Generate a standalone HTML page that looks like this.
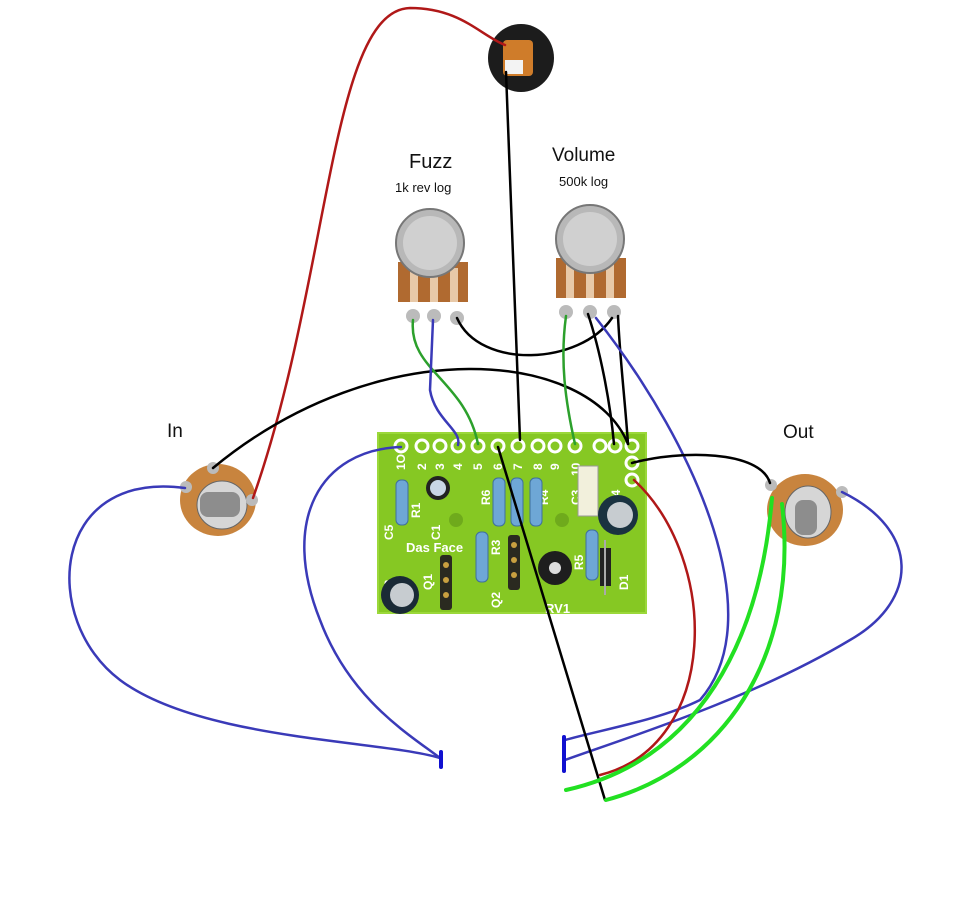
<!DOCTYPE html>
<html><head><style>
html,body{margin:0;padding:0;background:#fff;}
svg{display:block;font-family:"Liberation Sans",sans-serif;}
</style></head><body>
<svg width="977" height="906" viewBox="0 0 977 906" xmlns="http://www.w3.org/2000/svg">
<rect width="977" height="906" fill="#fff"/>
<text x="167" y="437" font-size="19" fill="#111">In</text>
<text x="783" y="438" font-size="19" fill="#111">Out</text>
<text x="409" y="168" font-size="20" fill="#111">Fuzz</text>
<text x="395" y="192" font-size="13" fill="#111">1k rev log</text>
<text x="552" y="161" font-size="19" fill="#111">Volume</text>
<text x="559" y="186" font-size="13" fill="#111">500k log</text>

<rect x="378" y="433" width="268" height="180" fill="#86c823"/>
<rect x="378" y="433" width="268" height="180" fill="none" stroke="#9bd83a" stroke-width="2"/>
<g fill="#86c823" stroke="#fff" stroke-width="3">
<circle cx="401" cy="446" r="6"/><circle cx="422" cy="446" r="6"/><circle cx="440" cy="446" r="6"/>
<circle cx="458" cy="446" r="6"/><circle cx="478" cy="446" r="6"/><circle cx="498" cy="446" r="6"/>
<circle cx="518" cy="446" r="6"/><circle cx="538" cy="446" r="6"/><circle cx="555" cy="446" r="6"/>
<circle cx="575" cy="446" r="6"/><circle cx="600" cy="446" r="6"/><circle cx="615" cy="446" r="6"/>
<circle cx="632" cy="446" r="6"/><circle cx="632" cy="463" r="6"/><circle cx="632" cy="480" r="6"/>
</g>
<g fill="#fff" font-size="12" font-weight="bold">
<text transform="translate(405,470) rotate(-90)">1O</text>
<text transform="translate(426,470) rotate(-90)">2</text>
<text transform="translate(444,470) rotate(-90)">3</text>
<text transform="translate(462,470) rotate(-90)">4</text>
<text transform="translate(482,470) rotate(-90)">5</text>
<text transform="translate(502,470) rotate(-90)">6</text>
<text transform="translate(522,470) rotate(-90)">7</text>
<text transform="translate(542,470) rotate(-90)">8</text>
<text transform="translate(559,470) rotate(-90)">9</text>
<text transform="translate(580,476) rotate(-90)">10</text>
<text transform="translate(420,518) rotate(-90)">R1</text>
<text transform="translate(440,540) rotate(-90)">C1</text>
<text transform="translate(393,540) rotate(-90)">C5</text>
<text transform="translate(393,595) rotate(-90)">C2</text>
<text transform="translate(490,505) rotate(-90)">R6</text>
<text transform="translate(548,505) rotate(-90)">R4</text>
<text transform="translate(580,505) rotate(-90)">C3</text>
<text transform="translate(620,505) rotate(-90)">C4</text>
<text transform="translate(500,555) rotate(-90)">R3</text>
<text transform="translate(432,590) rotate(-90)">Q1</text>
<text transform="translate(500,608) rotate(-90)">Q2</text>
<text transform="translate(583,570) rotate(-90)">R5</text>
<text transform="translate(628,590) rotate(-90)">D1</text>
<text x="406" y="552" font-size="13">Das Face</text>
<text x="545" y="613" font-size="13">RV1</text>
</g>
<g fill="#6ea7d6" stroke="#3e6f9c" stroke-width="1">
<rect x="396" y="480" width="12" height="45" rx="5"/>
<rect x="493" y="478" width="12" height="48" rx="5"/>
<rect x="511" y="478" width="12" height="48" rx="5"/>
<rect x="530" y="478" width="12" height="48" rx="5"/>
<rect x="476" y="532" width="12" height="50" rx="5"/>
<rect x="586" y="530" width="12" height="50" rx="5"/>
</g>
<rect x="578" y="466" width="20" height="50" fill="#f2f0dc" stroke="#999"/>
<circle cx="438" cy="488" r="12" fill="#222"/><circle cx="438" cy="488" r="8" fill="#c9d6e6"/>
<circle cx="618" cy="515" r="20" fill="#1a3240"/><circle cx="620" cy="515" r="13" fill="#c7ccd0"/>
<circle cx="400" cy="595" r="19" fill="#1a2a36"/><circle cx="402" cy="595" r="12" fill="#c7ccd0"/>
<circle cx="456" cy="520" r="7" fill="#6faa1c"/><circle cx="562" cy="520" r="7" fill="#6faa1c"/>
<rect x="440" y="555" width="12" height="55" rx="3" fill="#2a2a20"/>
<g fill="#c8a040"><circle cx="446" cy="565" r="3"/><circle cx="446" cy="580" r="3"/><circle cx="446" cy="595" r="3"/></g>
<rect x="508" y="535" width="12" height="55" rx="3" fill="#2a2a20"/>
<g fill="#c8a040"><circle cx="514" cy="545" r="3"/><circle cx="514" cy="560" r="3"/><circle cx="514" cy="575" r="3"/></g>
<circle cx="555" cy="568" r="17" fill="#1e1e1e"/><circle cx="555" cy="568" r="6" fill="#ddd"/>
<rect x="600" y="548" width="11" height="38" fill="#222"/><rect x="604" y="540" width="2" height="55" fill="#aaa"/>

<g>
<rect x="398" y="262" width="70" height="40" fill="#b06a30"/>
<rect x="410" y="268" width="8" height="34" fill="#e8c9a8"/><rect x="430" y="268" width="8" height="34" fill="#e8c9a8"/><rect x="450" y="268" width="8" height="34" fill="#e8c9a8"/>
<circle cx="430" cy="243" r="34" fill="#b8b8b8" stroke="#777" stroke-width="2"/>
<circle cx="430" cy="243" r="27" fill="#d0d0d0"/>
<circle cx="413" cy="316" r="7" fill="#bbb"/><circle cx="434" cy="316" r="7" fill="#bbb"/><circle cx="457" cy="318" r="7" fill="#bbb"/>
</g>
<g>
<rect x="556" y="258" width="70" height="40" fill="#b06a30"/>
<rect x="566" y="264" width="8" height="34" fill="#e8c9a8"/><rect x="586" y="264" width="8" height="34" fill="#e8c9a8"/><rect x="606" y="264" width="8" height="34" fill="#e8c9a8"/>
<circle cx="590" cy="239" r="34" fill="#b8b8b8" stroke="#777" stroke-width="2"/>
<circle cx="590" cy="239" r="27" fill="#d0d0d0"/>
<circle cx="566" cy="312" r="7" fill="#bbb"/><circle cx="590" cy="312" r="7" fill="#bbb"/><circle cx="614" cy="312" r="7" fill="#bbb"/>
</g>
<ellipse cx="521" cy="58" rx="33" ry="34" fill="#1c1c1c"/>
<rect x="503" y="40" width="30" height="36" rx="4" fill="#cf7c2a"/>
<rect x="505" y="60" width="18" height="14" fill="#f3f3f3"/>
<g>
<ellipse cx="218" cy="500" rx="38" ry="36" fill="#c8843e"/>
<ellipse cx="222" cy="505" rx="25" ry="24" fill="#d6d6d6" stroke="#666"/>
<rect x="200" y="492" width="40" height="25" rx="8" fill="#8d8d8d"/>
<circle cx="213" cy="468" r="6" fill="#bbb"/><circle cx="186" cy="487" r="6" fill="#bbb"/><circle cx="252" cy="500" r="6" fill="#bbb"/>
</g>
<g>
<ellipse cx="805" cy="510" rx="38" ry="36" fill="#c8843e"/>
<ellipse cx="808" cy="512" rx="23" ry="26" fill="#d6d6d6" stroke="#666"/>
<rect x="795" y="500" width="22" height="35" rx="8" fill="#8d8d8d"/>
<circle cx="771" cy="485" r="6" fill="#bbb"/><circle cx="842" cy="492" r="6" fill="#bbb"/>
</g>

<g fill="none" stroke-linecap="round">
<path d="M253,498 C330,280 330,10 410,8 C460,8 480,35 505,45" stroke="#b01818" stroke-width="2.5"/>
<path d="M506,72 L520,440" stroke="#000" stroke-width="2.5"/>
<path d="M213,468 C380,330 590,350 628,444" stroke="#000" stroke-width="2.5"/>
<path d="M185,488 C50,470 40,620 120,680 C200,740 380,740 440,758" stroke="#3a3ab8" stroke-width="2.5"/>
<path d="M401,447 C320,450 280,520 320,620 C350,700 410,735 440,758" stroke="#3a3ab8" stroke-width="2.5"/>
<path d="M441,752 L441,767" stroke="#1010d0" stroke-width="4"/>
<path d="M413,320 C408,370 465,380 478,444" stroke="#2ca02c" stroke-width="2.5"/>
<path d="M433,320 L430,390 C435,420 462,430 458,445" stroke="#3a3ab8" stroke-width="2.5"/>
<path d="M457,318 C480,370 580,365 612,318" stroke="#000" stroke-width="2.5"/>
<path d="M588,314 C600,350 610,400 614,444" stroke="#000" stroke-width="2.5"/>
<path d="M618,316 C620,360 625,400 628,444" stroke="#000" stroke-width="2.5"/>
<path d="M566,316 C560,360 565,400 575,444" stroke="#2ca02c" stroke-width="2.5"/>
<path d="M596,318 C700,450 770,620 700,700 C660,720 600,730 565,740" stroke="#3a3ab8" stroke-width="2.5"/>
<path d="M842,492 C920,530 920,600 850,640 C750,700 620,740 565,760" stroke="#3a3ab8" stroke-width="2.5"/>
<path d="M564,737 L564,771" stroke="#1010d0" stroke-width="4"/>
<path d="M632,463 C680,450 760,450 770,483" stroke="#000" stroke-width="2.5"/>
<path d="M634,480 C720,560 720,745 600,775" stroke="#b01818" stroke-width="2.5"/>
<path d="M498,447 L605,800" stroke="#000" stroke-width="2.5"/>
<path d="M772,498 C760,640 700,760 566,790" stroke="#22e022" stroke-width="4"/>
<path d="M782,504 C800,660 720,770 606,800" stroke="#22e022" stroke-width="4"/>
</g>
</svg>
</body></html>
